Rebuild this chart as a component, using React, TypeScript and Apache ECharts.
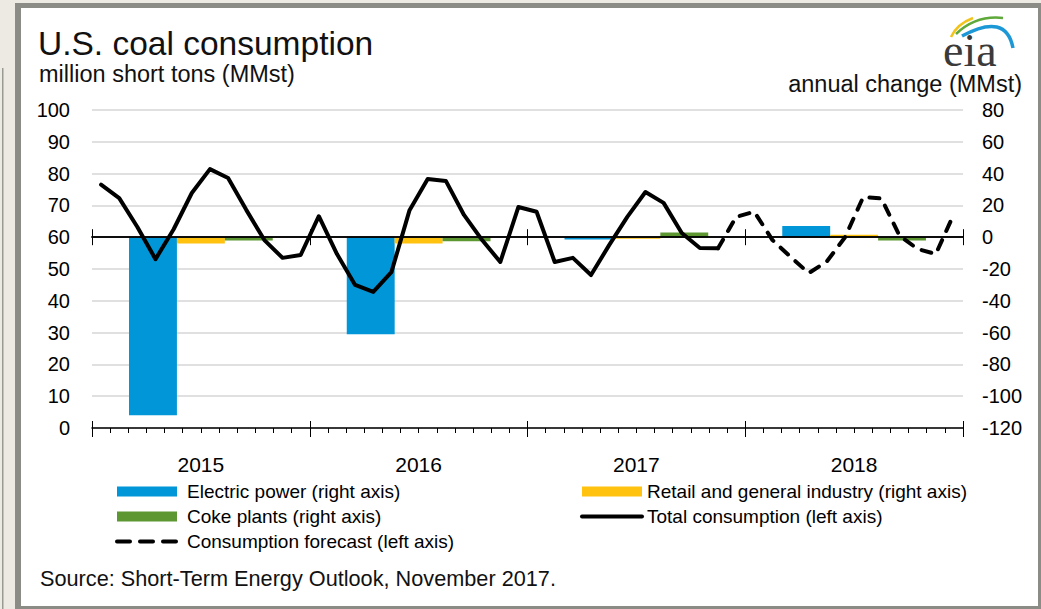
import React, { useEffect, useRef } from "react";
import * as echarts from "echarts";

// ---- data ----
const years = ["2015", "2016", "2017", "2018"];
const monthNames = ["Jan", "Feb", "Mar", "Apr", "May", "Jun", "Jul", "Aug", "Sep", "Oct", "Nov", "Dec"];
const months = years.flatMap((y) => monthNames.map((m) => `${m} ${y}`));

// Total consumption, Jan 2015 - Nov 2017 (left axis, MMst)
const totalConsumption = [
  76.5, 72.3, 63.2, 53.1, 62.5, 73.9, 81.4, 78.6, 68.6, 59.1, 53.5, 54.4,
  66.6, 54.7, 45.0, 42.8, 49.0, 68.5, 78.3, 77.7, 67.0, 59.1, 52.2, 69.5,
  68.0, 52.2, 53.5, 48.1, 57.5, 66.4, 74.2, 70.8, 61.3, 56.6, 56.5,
];
// Forecast, Nov 2017 - Dec 2018 (left axis, MMst)
const forecastStartIndex = 34;
const consumptionForecast = [
  56.5, 66.4, 68.0, 59.1, 53.8, 48.7, 52.4, 60.0, 72.6, 72.2, 60.5, 56.3, 54.7, 67.3,
];
// Annual change by sector (right axis, MMst)
const electricPower = [-112, -61, -1.5, 7];
const retailIndustry = [-4, -4, -1, 1.5];
const cokePlants = [-2, -2.5, 3, -2];

const leftMin = 0, leftMax = 100, leftStep = 10;
const rightMin = -120, rightMax = 80, rightStep = 20;

const FONT = "'Liberation Sans', Arial, Helvetica, sans-serif";

export default function App() {
  const ref = useRef<HTMLDivElement>(null);
  useEffect(() => {
    document.body.style.margin = "0";
    const chart = echarts.init(ref.current!, null, { renderer: "svg" });
    const totalData = months.map((_, i) => (i < totalConsumption.length ? totalConsumption[i] : null));
    const forecastData = months.map((_, i) =>
      i >= forecastStartIndex ? consumptionForecast[i - forecastStartIndex] : null
    );
    const black = "#000";
    const tick = (length: number, inside = false) => ({
      show: true, inside, interval: 0, length, lineStyle: { color: black, width: 1 },
    });
    const option: any = {
      animation: false,
      backgroundColor: "#EDEAE3",
      textStyle: { fontFamily: FONT },
      grid: { left: 92, right: 78, top: 110, bottom: 181, containLabel: false },
      xAxis: [
        {
          type: "category", data: months, position: "bottom", boundaryGap: true,
          axisLine: { show: true, onZero: false, lineStyle: { color: black, width: 1.5 } },
          axisTick: tick(5),
          axisLabel: { show: false }, splitLine: { show: false },
        },
        {
          type: "category", data: years, position: "bottom", z: 3, boundaryGap: true,
          axisLine: { show: true, onZero: true, onZeroAxisIndex: 1, lineStyle: { color: black, width: 1.5 } },
          axisTick: tick(8),
          axisLabel: { show: false }, splitLine: { show: false },
        },
        {
          type: "category", data: years, position: "bottom", boundaryGap: true,
          axisLine: { show: false, onZero: false },
          axisTick: tick(9),
          axisLabel: { show: true, margin: 26, fontSize: 21, color: black, fontFamily: FONT },
          splitLine: { show: false },
        },
        {
          type: "category", data: years, position: "bottom", boundaryGap: true,
          axisLine: { show: false, onZero: false },
          axisTick: tick(7, true),
          axisLabel: { show: false }, splitLine: { show: false },
        },
        {
          type: "category", data: years, position: "bottom", z: 3, boundaryGap: true,
          axisLine: { show: true, onZero: true, onZeroAxisIndex: 1, lineStyle: { color: black, width: 1.5 } },
          axisTick: tick(8, true),
          axisLabel: { show: false }, splitLine: { show: false },
        },
      ],
      yAxis: [
        {
          type: "value", min: leftMin, max: leftMax, interval: leftStep, position: "left",
          axisLine: { show: false }, axisTick: { show: false },
          axisLabel: { margin: 22, fontSize: 20, color: black, fontFamily: FONT },
          splitLine: { show: true, lineStyle: { color: "#D6D6D6", width: 1.5 } },
        },
        {
          type: "value", min: rightMin, max: rightMax, interval: rightStep, position: "right",
          axisLine: { show: false }, axisTick: { show: false },
          axisLabel: { margin: 19, fontSize: 20, color: black, fontFamily: FONT },
          splitLine: { show: false },
        },
      ],
      legend: [
        {
          left: 115, top: 482, orient: "vertical", itemWidth: 60, itemHeight: 10, itemGap: 6,
          padding: 0, selectedMode: false,
          textStyle: { fontSize: 19, color: black, fontFamily: FONT, padding: [0, 0, 0, 5] },
          data: [
            { name: "Electric power (right axis)", icon: "rect" },
            { name: "Coke plants (right axis)", icon: "rect" },
            {
              name: "Consumption forecast (left axis)",
              itemStyle: { opacity: 0 },
              lineStyle: { width: 4, type: [13, 10], cap: "round", color: black },
            },
          ],
        },
        {
          left: 580, top: 482, orient: "vertical", itemWidth: 60, itemHeight: 10, itemGap: 6,
          padding: 0, selectedMode: false,
          textStyle: { fontSize: 19, color: black, fontFamily: FONT },
          data: [
            { name: "Retail and general industry (right axis)", icon: "rect" },
            {
              name: "Total consumption (left axis)",
              itemStyle: { opacity: 0 },
              lineStyle: { width: 4, cap: "round", color: black },
            },
          ],
        },
      ],
      series: [
        {
          name: "Electric power (right axis)", type: "bar", xAxisIndex: 1, yAxisIndex: 1,
          data: electricPower, barWidth: "22%", barGap: "0%", itemStyle: { color: "#0096D7" }, z: 2,
        },
        {
          name: "Retail and general industry (right axis)", type: "bar", xAxisIndex: 1, yAxisIndex: 1,
          data: retailIndustry, barWidth: "22%", barGap: "0%", itemStyle: { color: "#FFC20E" }, z: 2,
        },
        {
          name: "Coke plants (right axis)", type: "bar", xAxisIndex: 1, yAxisIndex: 1,
          data: cokePlants, barWidth: "22%", barGap: "0%", itemStyle: { color: "#5D9732" }, z: 2,
        },
        {
          name: "Total consumption (left axis)", type: "line", xAxisIndex: 0, yAxisIndex: 0,
          data: totalData, symbol: "none", connectNulls: false, z: 5,
          lineStyle: { color: black, width: 4, join: "round", cap: "round" },
          itemStyle: { color: black },
        },
        {
          name: "Consumption forecast (left axis)", type: "line", xAxisIndex: 0, yAxisIndex: 0,
          data: forecastData, symbol: "none", connectNulls: false, z: 5,
          lineStyle: { color: black, width: 4, type: [10, 10], cap: "round", join: "round" },
          itemStyle: { color: black },
        },
      ],
      graphic: [
        { type: "rect", z: -10, silent: true, shape: { x: 15, y: 3, width: 1026, height: 606 }, style: { fill: "#8C8C86" } },
        { type: "rect", z: -9, silent: true, shape: { x: 21, y: 8, width: 1017, height: 598 }, style: { fill: "#FFFFFF" } },
        { type: "rect", z: -9, silent: true, shape: { x: 2, y: 68, width: 1.5, height: 541 }, style: { fill: "#9A9A94" } },
        {
          type: "text", style: { text: "U.S. coal consumption", x: 38, y: 43, font: `33.5px ${FONT}`, fill: "#111", align: "left", verticalAlign: "middle" },
        },
        {
          type: "text", style: { text: "million short tons (MMst)", x: 39, y: 74, font: `23.5px ${FONT}`, fill: "#111", align: "left", verticalAlign: "middle" },
        },
        {
          type: "text", style: { text: "annual change (MMst)", x: 1022, y: 84, font: `23.5px ${FONT}`, fill: "#111", align: "right", verticalAlign: "middle" },
        },
        {
          type: "text", style: { text: "Source: Short-Term Energy Outlook, November 2017.", x: 40, y: 578, font: `21.7px ${FONT}`, fill: "#111", align: "left", verticalAlign: "middle" },
        },
        {
          type: "text", style: { text: "eia", x: 943, y: 50, font: `46px 'Liberation Serif', 'DejaVu Serif', serif`, fill: "#3A3A3A", align: "left", verticalAlign: "middle" },
        },
        { type: "bezierCurve", shape: { x1: 951, y1: 37, cpx1: 957, cpy1: 24, x2: 973, y2: 18 }, style: { stroke: "#F2C31A", lineWidth: 2.5, fill: null } },
        { type: "bezierCurve", shape: { x1: 956, y1: 34, cpx1: 976, cpy1: 15, x2: 1003, y2: 18 }, style: { stroke: "#5FA83A", lineWidth: 2.5, fill: null } },
        { type: "bezierCurve", shape: { x1: 962, y1: 36, cpx1: 1006, cpy1: 12, x2: 1013, y2: 48 }, style: { stroke: "#1C98D6", lineWidth: 3.5, fill: null } },
      ],
    };
    chart.setOption(option);
    return () => chart.dispose();
  }, []);
  return <div ref={ref} style={{ width: 1041, height: 609 }} />;
}
